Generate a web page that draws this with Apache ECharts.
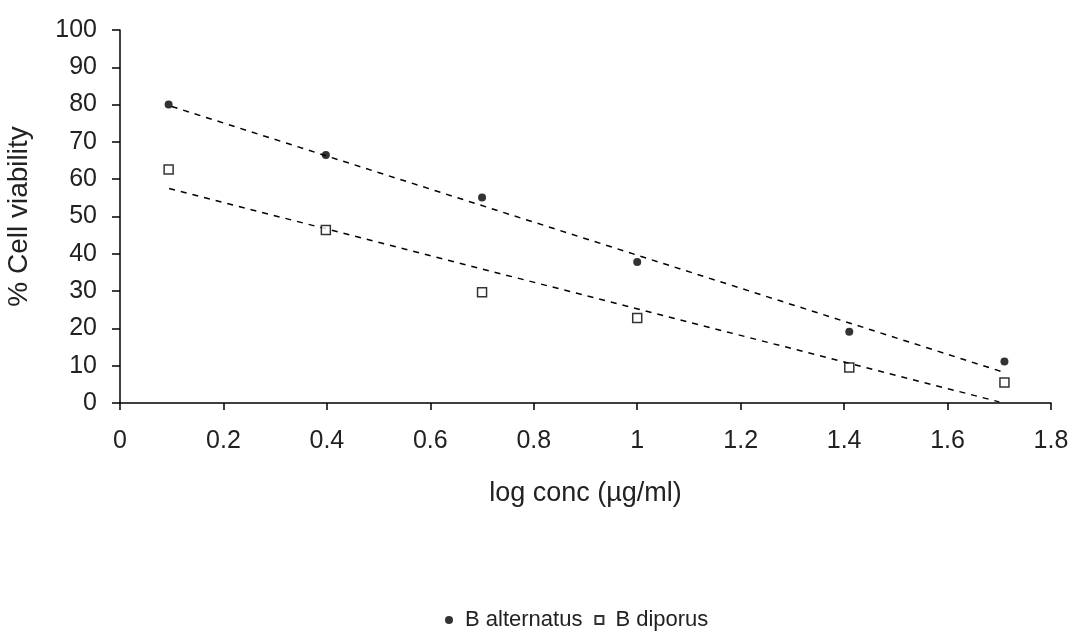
<!DOCTYPE html>
<html>
<head>
<meta charset="utf-8">
<script src="https://cdn.jsdelivr.net/npm/echarts@6/dist/echarts.min.js"></script>
<style>
html,body{margin:0;padding:0;background:#fff;}
#chart{width:1080px;height:632px;}
</style>
</head>
<body>
<div id="chart"></div>
<script>
// log conc values
var logConc = [0.094, 0.398, 0.70, 1.0, 1.41, 1.71];
var altValues = [80, 66.5, 55.1, 37.8, 19.1, 11.1];
var dipValues = [62.6, 46.4, 29.7, 22.8, 9.5, 5.5];
// trendline ends
var altTrend = [[0.1, 79.5], [1.705, 8.4]];
var dipTrend = [[0.095, 57.5], [1.70, 0.3]];

function pairs(xs, ys){
	var out = [];
	for(var i=0;i<xs.length;i++){
		out.push([xs[i], ys[i]]);
	}
	return out;
}

var chart = echarts.init(document.getElementById('chart'));
var font = 'Liberation Sans, Arial';
var option = {
	animation:false,
	backgroundColor:'#fff',
	grid:{left:120, right:29, top:30, bottom:229, outerBoundsMode:'none'},
	legend:{
		top:604,
		left:440,
		itemWidth:8,
		itemHeight:8,
		itemGap:12,
		textStyle:{color:'#222', fontFamily:font, fontSize:22, padding:[0,0,0,7]},
		data:['B alternatus','B diporus']
	},
	xAxis:{
		type:'value',
		min:0, max:1.8, interval:0.2,
		name:'log conc (µg/ml)',
		nameLocation:'middle',
		nameGap:77,
		nameTextStyle:{color:'#222', fontFamily:font, fontSize:27},
		axisLine:{lineStyle:{color:'#000', width:1.5}},
		axisTick:{show:true, length:7, lineStyle:{color:'#000', width:1.5}},
		axisLabel:{color:'#222', fontFamily:font, fontSize:25, margin:26},
		splitLine:{show:false}
	},
	yAxis:{
		type:'value',
		min:0, max:100, interval:10,
		name:'% Cell viability',
		nameLocation:'middle',
		nameGap:87,
		nameTextStyle:{color:'#222', fontFamily:font, fontSize:28},
		axisLine:{show:true, lineStyle:{color:'#000', width:1.5}},
		axisTick:{show:true, length:8, lineStyle:{color:'#000', width:1.5}},
		axisLabel:{color:'#222', fontFamily:font, fontSize:25, margin:23},
		splitLine:{show:false}
	},
	series:[
		{
			name:'B alternatus',
			type:'scatter',
			symbol:'circle',
			symbolSize:8,
			itemStyle:{color:'#000'},
			data:pairs(logConc, altValues),
			z:5
		},
		{
			name:'B diporus',
			type:'scatter',
			symbol:'rect',
			symbolSize:9,
			itemStyle:{color:'#fff', borderColor:'#000', borderWidth:1.5},
			data:pairs(logConc, dipValues),
			z:5
		},
		{
			name:'alt trend',
			type:'line',
			symbol:'none',
			lineStyle:{color:'#000', width:1.5, type:[6,6]},
			data:altTrend
		},
		{
			name:'dip trend',
			type:'line',
			symbol:'none',
			lineStyle:{color:'#000', width:1.5, type:[6,6]},
			data:dipTrend
		}
	]
};
chart.setOption(option);
</script>
</body>
</html>
